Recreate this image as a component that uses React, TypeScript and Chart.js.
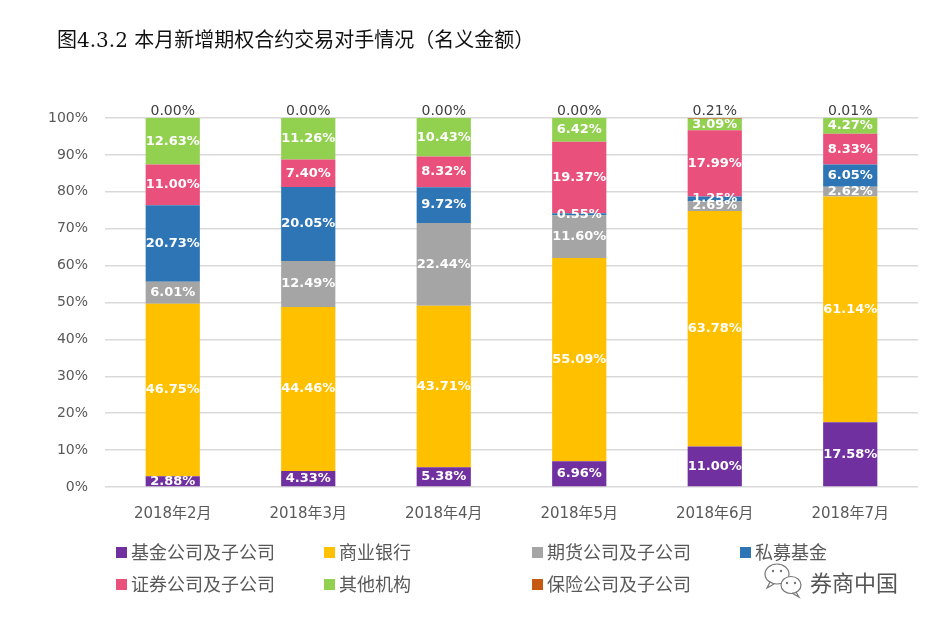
import React, { useEffect, useRef } from "react";
import { Chart, registerables } from "chart.js";

Chart.register(...registerables);

const title = "图4.3.2 本月新增期权合约交易对手情况（名义金额）";
const months = ["2018年2月", "2018年3月", "2018年4月", "2018年5月", "2018年6月", "2018年7月"];
const seriesNames = [
  "基金公司及子公司",
  "商业银行",
  "期货公司及子公司",
  "私募基金",
  "证券公司及子公司",
  "其他机构",
  "保险公司及子公司",
];
// share of notional amount, %
const fundCompanies = [2.88, 4.33, 5.38, 6.96, 11.0, 17.58];
const commercialBanks = [46.75, 44.46, 43.71, 55.09, 63.78, 61.14];
const futuresCompanies = [6.01, 12.49, 22.44, 11.6, 2.69, 2.62];
const privateFunds = [20.73, 20.05, 9.72, 0.55, 1.25, 6.05];
const securitiesCompanies = [11.0, 7.4, 8.32, 19.37, 17.99, 8.33];
const otherInstitutions = [12.63, 11.26, 10.43, 6.42, 3.09, 4.27];
const insuranceCompanies = [0.0, 0.0, 0.0, 0.0, 0.21, 0.01];
const yTicks = [0, 10, 20, 30, 40, 50, 60, 70, 80, 90, 100];

const seriesValues = [
  fundCompanies,
  commercialBanks,
  futuresCompanies,
  privateFunds,
  securitiesCompanies,
  otherInstitutions,
  insuranceCompanies,
];
const seriesColors = ["#7030A0", "#FFC000", "#A5A5A5", "#2E75B6", "#E9507C", "#92D050", "#C55A11"];

const LATIN = "'DejaVu Sans', 'Noto Sans CJK SC', sans-serif";
const CJK = "'Noto Sans CJK SC', sans-serif";
const TITLE_FONT = "'DejaVu Serif', 'Noto Sans CJK SC', serif";

// white values in the middle of each segment, the last series above the bar
const segmentLabels = {
  id: "segmentLabels",
  afterDatasetsDraw(chart: any) {
    const ctx = chart.ctx;
    const last = chart.data.datasets.length - 1;
    ctx.save();
    ctx.textAlign = "center";
    ctx.textBaseline = "middle";
    chart.data.datasets.forEach((ds: any, i: number) => {
      const meta = chart.getDatasetMeta(i);
      meta.data.forEach((bar: any, j: number) => {
        const text = (ds.data[j] as number).toFixed(2) + "%";
        if (i === last) {
          ctx.font = "14px " + LATIN;
          ctx.fillStyle = "#404040";
          ctx.fillText(text, bar.x, bar.y - 7);
        } else {
          ctx.font = "bold 13px " + LATIN;
          ctx.fillStyle = "#ffffff";
          ctx.fillText(text, bar.x, (bar.y + bar.base) / 2);
        }
      });
    });
    ctx.restore();
  },
};

// title, grid legend and the watermark
const decorations = {
  id: "decorations",
  afterDraw(chart: any) {
    const ctx = chart.ctx;
    ctx.save();
    ctx.textBaseline = "middle";
    ctx.textAlign = "left";

    ctx.font = "20px " + TITLE_FONT;
    ctx.fillStyle = "#111111";
    ctx.fillText(title, 57, 42);

    ctx.font = "18px " + CJK;
    chart.data.datasets.forEach((ds: any, i: number) => {
      const x = 116 + (i % 4) * 208;
      const y = 552 + Math.floor(i / 4) * 32;
      ctx.fillStyle = ds.backgroundColor;
      ctx.fillRect(x, y - 5, 11, 11);
      ctx.fillStyle = "#595959";
      ctx.fillText(ds.label, x + 15, y);
    });

    // wechat-like icon
    ctx.strokeStyle = "#777777";
    ctx.lineWidth = 1.2;
    ctx.beginPath();
    ctx.ellipse(777, 574, 12, 10, 0, 0, Math.PI * 2);
    ctx.stroke();
    ctx.beginPath();
    ctx.moveTo(770, 582);
    ctx.lineTo(767, 588);
    ctx.lineTo(774, 584);
    ctx.stroke();
    ctx.fillStyle = "#ffffff";
    ctx.beginPath();
    ctx.ellipse(791, 585, 10, 8.5, 0, 0, Math.PI * 2);
    ctx.fill();
    ctx.stroke();
    ctx.beginPath();
    ctx.moveTo(796, 592);
    ctx.lineTo(799, 597);
    ctx.lineTo(792, 593);
    ctx.stroke();
    ctx.fillStyle = "#777777";
    [[773, 571], [781, 571], [787, 583], [795, 583]].forEach(([dx, dy]) => {
      ctx.beginPath();
      ctx.arc(dx, dy, 1.2, 0, Math.PI * 2);
      ctx.fill();
    });

    ctx.font = "22px " + CJK;
    ctx.fillStyle = "#555555";
    ctx.fillText("券商中国", 810, 583);
    ctx.restore();
  },
};

const StackedShareChart: React.FC = () => {
  const chartRef = useRef<HTMLCanvasElement | null>(null);

  useEffect(() => {
    if (!chartRef.current) return;
    const myChart = new Chart(chartRef.current, {
      type: "bar",
      data: {
        labels: months,
        datasets: seriesNames.map((name, i) => ({
          label: name,
          data: seriesValues[i],
          backgroundColor: seriesColors[i],
          borderWidth: 0,
          categoryPercentage: 1,
          barPercentage: 0.4,
        })),
      },
      options: {
        animation: false,
        responsive: true,
        maintainAspectRatio: false,
        events: [],
        layout: { padding: { left: 0, right: 13, top: 118, bottom: 95 } },
        plugins: {
          legend: { display: false },
          title: { display: false },
          tooltip: { enabled: false },
        },
        scales: {
          x: {
            stacked: true,
            grid: { display: false, drawTicks: false },
            border: { display: false },
            ticks: {
              color: "#595959",
              font: { family: LATIN, size: 15 },
              padding: 18,
              maxRotation: 0,
            },
            afterFit: (scale: any) => {
              scale.height = 40;
            },
          },
          y: {
            stacked: true,
            min: yTicks[0],
            max: yTicks[yTicks.length - 1],
            afterBuildTicks: (scale: any) => {
              scale.ticks = yTicks.map((v) => ({ value: v }));
            },
            grid: { color: "#D9D9D9", lineWidth: 1.5, drawTicks: false },
            border: { display: false },
            ticks: {
              color: "#595959",
              font: { family: LATIN, size: 14 },
              padding: 17,
              callback: (v: any) => v + "%",
            },
            afterFit: (scale: any) => {
              scale.width = 105;
            },
          },
        },
      },
      plugins: [segmentLabels, decorations],
    });

    return () => {
      myChart.destroy();
    };
  }, []);

  return (
    <div
      style={{
        position: "absolute",
        left: 0,
        top: 0,
        width: 931,
        height: 622,
        background: "#ffffff",
      }}
    >
      <canvas ref={chartRef}></canvas>
    </div>
  );
};

export default function App() {
  return <StackedShareChart />;
}
